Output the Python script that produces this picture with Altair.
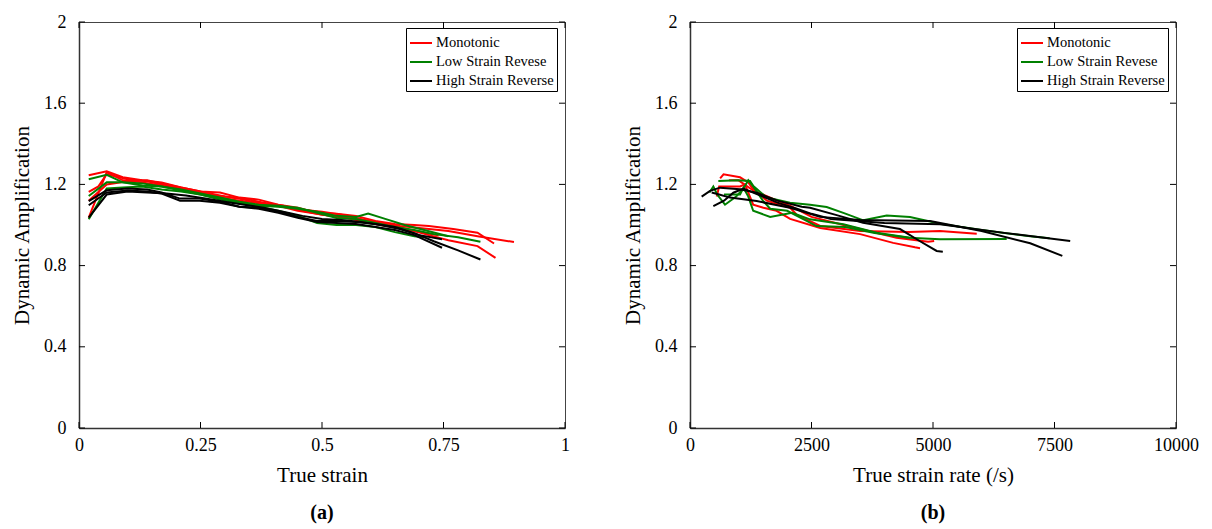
import altair as alt
import pandas as pd

SERIES = ["Monotonic", "Low Strain Revese", "High Strain Reverse"]
COLORS = ["#ff0000", "#008000", "#000000"]

# ---------------- Panel (a): true strain vs dynamic amplification ----------------
a_m1_x = [0.02, 0.057, 0.09, 0.13, 0.17, 0.21, 0.25, 0.29, 0.33, 0.37, 0.41, 0.45, 0.49, 0.53, 0.57, 0.61, 0.65, 0.69, 0.72, 0.77, 0.82, 0.854]
a_m1_y = [1.245, 1.265, 1.235, 1.22, 1.21, 1.185, 1.165, 1.16, 1.135, 1.125, 1.10, 1.085, 1.06, 1.055, 1.045, 1.02, 1.005, 1.0, 0.995, 0.98, 0.962, 0.909]
a_m2_x = [0.02, 0.04, 0.057, 0.10, 0.14, 0.18, 0.22, 0.26, 0.30, 0.34, 0.38, 0.42, 0.46, 0.50, 0.54, 0.58, 0.62, 0.66, 0.70, 0.76, 0.82, 0.895]
a_m2_y = [1.163, 1.19, 1.25, 1.225, 1.215, 1.195, 1.17, 1.15, 1.14, 1.125, 1.10, 1.09, 1.075, 1.065, 1.05, 1.03, 1.01, 0.995, 0.985, 0.97, 0.945, 0.916]
a_m3_x = [0.02, 0.057, 0.09, 0.13, 0.17, 0.21, 0.25, 0.29, 0.33, 0.37, 0.41, 0.45, 0.49, 0.53, 0.57, 0.61, 0.65, 0.69, 0.72, 0.76, 0.82, 0.857]
a_m3_y = [1.036, 1.26, 1.22, 1.21, 1.195, 1.175, 1.16, 1.135, 1.12, 1.11, 1.095, 1.07, 1.055, 1.04, 1.03, 1.01, 0.995, 0.97, 0.95, 0.925, 0.896, 0.838]
a_m4_x = [0.02, 0.057, 0.10, 0.14, 0.18, 0.22, 0.26, 0.30, 0.34, 0.38, 0.42, 0.46, 0.50, 0.54, 0.58, 0.62, 0.66, 0.70, 0.74]
a_m4_y = [1.12, 1.20, 1.215, 1.22, 1.20, 1.18, 1.16, 1.14, 1.13, 1.11, 1.095, 1.07, 1.05, 1.04, 1.02, 1.0, 0.985, 0.965, 0.95]

a_l1_x = [0.02, 0.057, 0.09, 0.13, 0.17, 0.21, 0.25, 0.29, 0.33, 0.37, 0.41, 0.45, 0.49, 0.53, 0.57, 0.61, 0.65, 0.69, 0.73, 0.78, 0.826]
a_l1_y = [1.225, 1.247, 1.21, 1.195, 1.19, 1.175, 1.155, 1.135, 1.115, 1.10, 1.095, 1.085, 1.06, 1.035, 1.03, 1.01, 0.99, 0.975, 0.955, 0.94, 0.918]
a_l2_x = [0.02, 0.057, 0.09, 0.13, 0.17, 0.21, 0.25, 0.29, 0.33, 0.37, 0.41, 0.45, 0.49, 0.53, 0.57, 0.595, 0.63, 0.67, 0.71, 0.76]
a_l2_y = [1.143, 1.21, 1.21, 1.205, 1.19, 1.17, 1.15, 1.125, 1.11, 1.095, 1.09, 1.08, 1.065, 1.045, 1.04, 1.056, 1.03, 1.0, 0.975, 0.945]
a_l3_x = [0.02, 0.057, 0.09, 0.13, 0.17, 0.21, 0.25, 0.29, 0.33, 0.37, 0.41, 0.45, 0.49, 0.53, 0.57, 0.61, 0.65, 0.69, 0.71]
a_l3_y = [1.028, 1.18, 1.185, 1.19, 1.175, 1.165, 1.15, 1.13, 1.11, 1.09, 1.07, 1.045, 1.01, 1.0, 1.0, 0.99, 0.965, 0.945, 0.94]

a_h1_x = [0.02, 0.057, 0.10, 0.14, 0.17, 0.208, 0.248, 0.29, 0.33, 0.37, 0.41, 0.45, 0.49, 0.53, 0.57, 0.61, 0.65, 0.69, 0.73, 0.78, 0.826]
a_h1_y = [1.118, 1.171, 1.18, 1.175, 1.16, 1.13, 1.13, 1.115, 1.09, 1.085, 1.065, 1.04, 1.02, 1.02, 1.015, 1.005, 0.99, 0.96, 0.92, 0.875, 0.83]
a_h2_x = [0.02, 0.057, 0.10, 0.14, 0.17, 0.208, 0.248, 0.29, 0.33, 0.37, 0.41, 0.45, 0.49, 0.53, 0.57, 0.61, 0.65, 0.69, 0.747]
a_h2_y = [1.097, 1.16, 1.17, 1.165, 1.155, 1.12, 1.12, 1.11, 1.09, 1.08, 1.06, 1.035, 1.015, 1.01, 1.005, 0.99, 0.975, 0.95, 0.888]
a_h3_x = [0.02, 0.057, 0.10, 0.14, 0.18, 0.22, 0.26, 0.30, 0.34, 0.38, 0.42, 0.46, 0.50, 0.54, 0.58, 0.62, 0.66, 0.70, 0.747]
a_h3_y = [1.036, 1.15, 1.165, 1.16, 1.155, 1.145, 1.13, 1.115, 1.10, 1.085, 1.065, 1.045, 1.03, 1.025, 1.015, 1.0, 0.98, 0.95, 0.93]

# ---------------- Panel (b): true strain rate vs dynamic amplification ----------------
b_m1_x = [620, 690, 1030, 1200, 1270, 1580, 2060, 2200, 2680, 3500, 4500, 5144, 5900]
b_m1_y = [1.23, 1.25, 1.235, 1.21, 1.185, 1.12, 1.085, 1.05, 0.995, 0.97, 0.965, 0.97, 0.957]
b_m2_x = [550, 600, 1030, 1130, 1300, 1510, 1780, 2060, 2680, 3500, 4180, 4630, 4734]
b_m2_y = [1.14, 1.19, 1.19, 1.20, 1.10, 1.085, 1.07, 1.03, 0.985, 0.955, 0.912, 0.89, 0.886]
b_m3_x = [800, 1000, 1300, 1700, 2100, 2500, 3160, 4250, 4900, 5024]
b_m3_y = [1.22, 1.22, 1.17, 1.13, 1.09, 1.04, 1.0, 0.937, 0.917, 0.921]

b_l1_x = [400, 480, 560, 720, 950, 1100, 1200, 1300, 1500, 1650, 2000, 2400, 2600, 3200, 3800, 4500, 5144, 6516]
b_l1_y = [1.16, 1.19, 1.15, 1.10, 1.14, 1.18, 1.22, 1.19, 1.12, 1.08, 1.07, 1.02, 0.995, 0.99, 0.96, 0.937, 0.93, 0.931]
b_l2_x = [583, 995, 1235, 1303, 1578, 2058, 2470, 2812, 3155, 3567, 4047, 4527, 5144, 6000, 7000, 7400]
b_l2_y = [1.217, 1.22, 1.217, 1.192, 1.135, 1.11, 1.10, 1.089, 1.06, 1.023, 1.047, 1.039, 1.006, 0.975, 0.945, 0.935]
b_l3_x = [700, 1030, 1100, 1200, 1300, 1650, 2100, 2470, 3155, 3841, 4527]
b_l3_y = [1.15, 1.15, 1.184, 1.14, 1.07, 1.04, 1.06, 1.028, 1.004, 0.962, 0.937]

b_h1_x = [240, 412, 617, 1029, 1372, 1800, 2300, 2470, 3000, 3560, 4321, 4733, 5076, 5202]
b_h1_y = [1.14, 1.168, 1.184, 1.176, 1.159, 1.12, 1.09, 1.085, 1.05, 1.011, 0.98, 0.92, 0.872, 0.868]
b_h2_x = [446, 600, 823, 1372, 2058, 2675, 3500, 4938, 6000, 7000, 7661]
b_h2_y = [1.16, 1.15, 1.135, 1.118, 1.085, 1.04, 1.025, 1.02, 0.97, 0.91, 0.848]
b_h3_x = [480, 700, 892, 1100, 1400, 1800, 2200, 2500, 2900, 4000, 5144, 6500, 7823]
b_h3_y = [1.093, 1.12, 1.159, 1.18, 1.15, 1.11, 1.08, 1.055, 1.03, 1.01, 1.004, 0.96, 0.921]

# tick values
a_xticks = [0, 0.25, 0.5, 0.75, 1]
b_xticks = [0, 2500, 5000, 7500, 10000]
yticks = [0, 0.4, 0.8, 1.2, 1.6, 2]

a_curves = [
    ("Monotonic", "m1", a_m1_x, a_m1_y), ("Monotonic", "m2", a_m2_x, a_m2_y),
    ("Monotonic", "m3", a_m3_x, a_m3_y), ("Monotonic", "m4", a_m4_x, a_m4_y),
    ("Low Strain Revese", "l1", a_l1_x, a_l1_y), ("Low Strain Revese", "l2", a_l2_x, a_l2_y),
    ("Low Strain Revese", "l3", a_l3_x, a_l3_y),
    ("High Strain Reverse", "h1", a_h1_x, a_h1_y), ("High Strain Reverse", "h2", a_h2_x, a_h2_y),
    ("High Strain Reverse", "h3", a_h3_x, a_h3_y),
]
b_curves = [
    ("Monotonic", "m1", b_m1_x, b_m1_y), ("Monotonic", "m2", b_m2_x, b_m2_y),
    ("Monotonic", "m3", b_m3_x, b_m3_y),
    ("Low Strain Revese", "l1", b_l1_x, b_l1_y), ("Low Strain Revese", "l2", b_l2_x, b_l2_y),
    ("Low Strain Revese", "l3", b_l3_x, b_l3_y),
    ("High Strain Reverse", "h1", b_h1_x, b_h1_y), ("High Strain Reverse", "h2", b_h2_x, b_h2_y),
    ("High Strain Reverse", "h3", b_h3_x, b_h3_y),
]


def to_df(curves):
    rows = []
    for series, cid, xs, ys in curves:
        for i, (x, y) in enumerate(zip(xs, ys)):
            rows.append({"series": series, "curve": cid, "i": i, "x": x, "y": y})
    return pd.DataFrame(rows)


FONT = "Liberation Serif"
W, H = 486, 406
TL = 6  # inward tick length
LABEL_EXPR = "'' + datum.value"


def panel(curves, xticks, xdomain, xtitle, label):
    df = to_df(curves)
    xs = alt.Scale(domain=xdomain, nice=False, zero=False)
    ys = alt.Scale(domain=[0, 2], nice=False)
    lines = alt.Chart(df).mark_line(strokeWidth=2, clip=True).encode(
        x=alt.X("x:Q", scale=xs, title=xtitle,
                axis=alt.Axis(values=xticks, labelExpr=LABEL_EXPR, ticks=False, grid=False,
                              labelFlush=False, labelPadding=8, titlePadding=10,
                              domainColor="#333", domainWidth=1.5, labelFont=FONT,
                              labelFontSize=18, titleFont=FONT, titleFontSize=21,
                              titleFontWeight="normal", labelColor="black",
                              titleColor="black")),
        y=alt.Y("y:Q", scale=ys, title="Dynamic Amplification",
                axis=alt.Axis(values=yticks, labelExpr=LABEL_EXPR, ticks=False, grid=False,
                              labelFlush=False, labelPadding=13, titlePadding=11,
                              domainColor="#333", domainWidth=1.5, labelFont=FONT,
                              labelFontSize=18, titleFont=FONT, titleFontSize=21,
                              titleFontWeight="normal", labelColor="black",
                              titleColor="black")),
        color=alt.Color("series:N",
                        scale=alt.Scale(domain=SERIES, range=COLORS),
                        legend=alt.Legend(title=None, orient="none", legendX=327, legendY=6,
                                          fillColor="white", strokeColor="black",
                                          padding=3, labelFont=FONT, labelFontSize=14.5,
                                          symbolType="stroke", symbolStrokeWidth=2,
                                          symbolSize=484, rowPadding=-4.5, labelOffset=3,
                                          labelColor="black")),
        detail="curve:N",
        order="i:Q",
    )
    xt = pd.DataFrame({"v": xticks})
    yt = pd.DataFrame({"v": yticks})
    bottom = alt.Chart(xt).mark_rule(color="black").encode(
        x=alt.X("v:Q", scale=xs), y=alt.value(H), y2=alt.value(H - TL))
    top = alt.Chart(xt).mark_rule(color="black").encode(
        x=alt.X("v:Q", scale=xs), y=alt.value(0), y2=alt.value(TL))
    left = alt.Chart(yt).mark_rule(color="black").encode(
        y=alt.Y("v:Q", scale=ys), x=alt.value(0), x2=alt.value(TL))
    right = alt.Chart(yt).mark_rule(color="black").encode(
        y=alt.Y("v:Q", scale=ys), x=alt.value(W), x2=alt.value(W - TL))
    return alt.layer(lines, bottom, top, left, right).properties(
        width=W, height=H,
        title=alt.TitleParams(label, orient="bottom", anchor="middle", font=FONT,
                              fontSize=20, fontWeight="bold", offset=18, color="black"),
    )


pa = panel(a_curves, a_xticks, [0, 1], "True strain", "(a)")
pb = panel(b_curves, b_xticks, [0, 10000], "True strain rate (/s)", "(b)")

chart = alt.hconcat(pa, pb, spacing=52).resolve_scale(color="independent").resolve_legend(
    color="independent"
).properties(
    padding={"left": 3, "top": 4, "right": 0, "bottom": 0},
    background="white",
).configure_view(
    stroke="#444", strokeWidth=1
)

chart.save("out.html", embed_options={"renderer": "svg", "actions": False})
